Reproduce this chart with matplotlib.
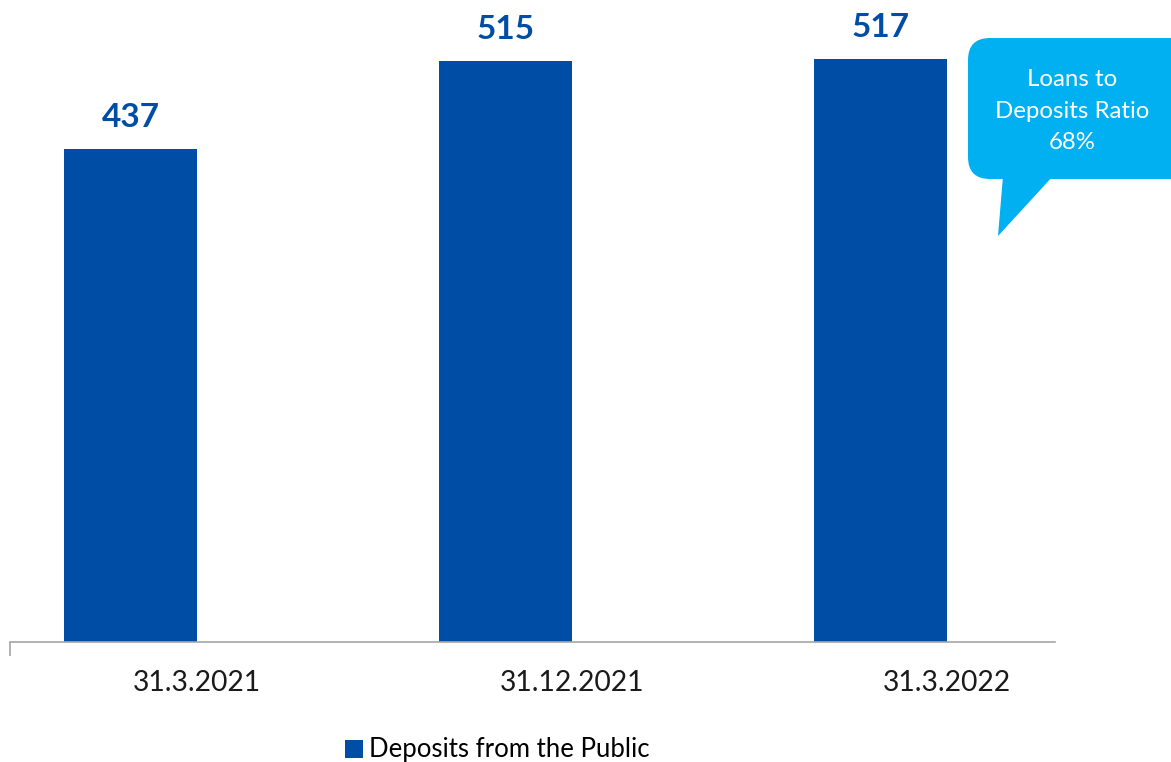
import matplotlib
matplotlib.use("Agg")
import matplotlib.pyplot as plt
from matplotlib.patches import FancyBboxPatch, Polygon

categories = ["31.3.2021", "31.12.2021", "31.3.2022"]
deposits = [437, 515, 517]
series_name = "Deposits from the Public"
callout_text = "Loans to\nDeposits Ratio\n68%"

plt.rcParams['font.family'] = ['Lato', 'DejaVu Sans']

W, H = 1171, 762
fig = plt.figure(figsize=(W / 100, H / 100), dpi=100)
bar_color = "#004DA6"

ax = fig.add_axes([9.5 / W, 1 - 642 / H, (1055 - 9.5) / W, 642 / H])
x = list(range(len(categories)))
bars = ax.bar(x, deposits, width=0.355, color=bar_color, label=series_name, zorder=2)
ax.set_xlim(-0.3227, 2.4653)
ax.set_ylim(0, 569)
for s in ["top", "right", "left"]:
    ax.spines[s].set_visible(False)
ax.spines["bottom"].set_color("#A6A6A6")
ax.spines["bottom"].set_linewidth(1.2)
ax.set_yticks([])
ax.set_xticks([i + 0.177 for i in x])
ax.set_xticklabels(categories, fontsize=20.3, color="#1a1a1a")
ax.tick_params(axis="x", length=0, pad=20.5)
ax.set_xticks([-0.3227], minor=True)
ax.tick_params(axis="x", which="minor", length=10, color="#A6A6A6", width=1.2)

for b, v in zip(bars, deposits):
    ax.annotate(str(v), (b.get_x() + b.get_width() / 2, v), xytext=(0, 12),
                textcoords="offset points", ha="center", va="bottom",
                fontsize=24, fontweight="bold", color=bar_color)

fig.legend(loc="center", bbox_to_anchor=(497.5 / W, 1 - 750 / H), frameon=False,
           fontsize=18.5, handlelength=0.7, handleheight=0.7, handletextpad=0.25,
           borderpad=0, borderaxespad=0)

# callout overlay in pixel coordinates
ov = fig.add_axes([0, 0, 1, 1], facecolor="none")
ov.set_xlim(0, W)
ov.set_ylim(H, 0)
ov.axis("off")
cc = "#00B0F0"
ov.add_patch(FancyBboxPatch((968, 38), 230, 141, boxstyle="round,pad=0,rounding_size=22",
                            fc=cc, ec="none"))
ov.add_patch(Polygon([(1003, 176), (1053, 176), (998, 236)], closed=True, fc=cc, ec="none"))
ov.text(1072, 111, callout_text, ha="center", va="center", color="white",
        fontsize=17.3, linespacing=1.62)

fig.savefig("out.png", dpi=100)
